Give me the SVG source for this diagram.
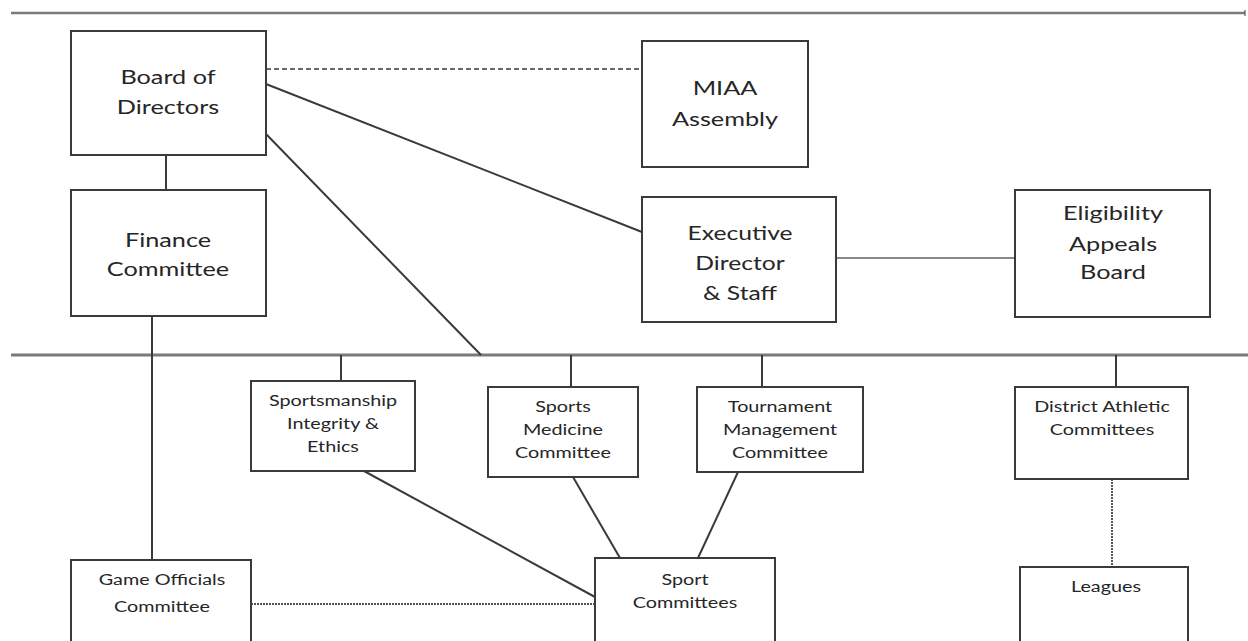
<svg xmlns="http://www.w3.org/2000/svg" width="1248" height="641" viewBox="0 0 1248 641">
<style>
.box{fill:#fff;stroke:#3a3a3a;stroke-width:2}
.t{font-family:Lato,"Open Sans","Liberation Sans",sans-serif;fill:#262626;text-anchor:middle}
.big{font-size:19px}
.sm{font-size:15px}
.ln{stroke:#3a3a3a;stroke-width:2;fill:none}
.bus{stroke:#7a7a7a;stroke-width:3;fill:none}
.dash{stroke:#3a3a3a;stroke-width:1.6;stroke-dasharray:5 3;fill:none}
.dot{stroke:#555;stroke-width:2;stroke-dasharray:2 1;fill:none}
</style>
<rect width="1248" height="641" fill="#fff"/>
<g id="connectors">
<line class="bus" x1="11" y1="13" x2="1245" y2="13" style="stroke-width:2.5"/>
<line class="ln" x1="1245" y1="10" x2="1245" y2="16" style="stroke-width:1"/>
<line class="bus" x1="11" y1="355" x2="1248" y2="355"/>
<line class="dash" x1="266" y1="69" x2="642" y2="69"/>
<line class="ln" x1="266" y1="84" x2="642" y2="232"/>
<line class="ln" x1="266" y1="134" x2="481" y2="355"/>
<line class="ln" x1="166" y1="155" x2="166" y2="190"/>
<line class="ln" x1="836" y1="258" x2="1015" y2="258" style="stroke:#888"/>
<line class="ln" x1="152" y1="316" x2="152" y2="560"/>
<line class="ln" x1="341" y1="355" x2="341" y2="381"/>
<line class="ln" x1="571" y1="355" x2="571" y2="387"/>
<line class="ln" x1="762" y1="355" x2="762" y2="387"/>
<line class="ln" x1="1116" y1="355" x2="1116" y2="387"/>
<line class="dot" x1="1112" y1="479" x2="1112" y2="567"/>
<line class="dot" x1="251" y1="604" x2="595" y2="604"/>
<line class="ln" x1="364" y1="471" x2="595" y2="597"/>
<line class="ln" x1="573" y1="477" x2="620" y2="558"/>
<line class="ln" x1="738" y1="472" x2="698" y2="558"/>
</g>
<g id="board">
<rect class="box" x="71" y="31" width="195" height="124"/>
<g transform="translate(168 0) scale(1.33 1)">
<text class="t big" x="0" y="84">Board of</text>
<text class="t big" x="0" y="114">Directors</text>
</g>
</g>
<g id="miaa">
<rect class="box" x="642" y="41" width="166" height="126"/>
<g transform="translate(725 0) scale(1.33 1)">
<text class="t big" x="0" y="95">MIAA</text>
<text class="t big" x="0" y="126">Assembly</text>
</g>
</g>
<g id="finance">
<rect class="box" x="71" y="190" width="195" height="126"/>
<g transform="translate(168 0) scale(1.33 1)">
<text class="t big" x="0" y="247">Finance</text>
<text class="t big" x="0" y="276">Committee</text>
</g>
</g>
<g id="exec">
<rect class="box" x="642" y="197" width="194" height="125"/>
<g transform="translate(740 0) scale(1.3 1)">
<text class="t big" x="0" y="240">Executive</text>
<text class="t big" x="0" y="270">Director</text>
<text class="t big" x="0" y="300">&amp; Staff</text>
</g>
</g>
<g id="eligibility">
<rect class="box" x="1015" y="190" width="195" height="127"/>
<g transform="translate(1113 0) scale(1.33 1)">
<text class="t big" x="0" y="220">Eligibility</text>
<text class="t big" x="0" y="251">Appeals</text>
<text class="t big" x="0" y="279">Board</text>
</g>
</g>
<g id="sportsmanship">
<rect class="box" x="251" y="381" width="164" height="90"/>
<g transform="translate(333 0) scale(1.32 1)">
<text class="t sm" x="0" y="406">Sportsmanship</text>
<text class="t sm" x="0" y="429">Integrity &amp;</text>
<text class="t sm" x="0" y="452">Ethics</text>
</g>
</g>
<g id="sportsmed">
<rect class="box" x="488" y="387" width="150" height="90"/>
<g transform="translate(563 0) scale(1.32 1)">
<text class="t sm" x="0" y="412">Sports</text>
<text class="t sm" x="0" y="435">Medicine</text>
<text class="t sm" x="0" y="458">Committee</text>
</g>
</g>
<g id="tournament">
<rect class="box" x="697" y="387" width="166" height="85"/>
<g transform="translate(780 0) scale(1.32 1)">
<text class="t sm" x="0" y="412">Tournament</text>
<text class="t sm" x="0" y="435">Management</text>
<text class="t sm" x="0" y="458">Committee</text>
</g>
</g>
<g id="district">
<rect class="box" x="1015" y="387" width="173" height="92"/>
<g transform="translate(1102 0) scale(1.32 1)">
<text class="t sm" x="0" y="412">District Athletic</text>
<text class="t sm" x="0" y="435">Committees</text>
</g>
</g>
<g id="leagues">
<rect class="box" x="1020" y="567" width="168" height="80"/>
<g transform="translate(1106 0) scale(1.32 1)">
<text class="t sm" x="0" y="592">Leagues</text>
</g>
</g>
<g id="gameofficials">
<rect class="box" x="71" y="560" width="180" height="90"/>
<g transform="translate(162 0) scale(1.32 1)">
<text class="t sm" x="0" y="585">Game Officials</text>
<text class="t sm" x="0" y="612">Committee</text>
</g>
</g>
<g id="sportcommittees">
<rect class="box" x="595" y="558" width="180" height="90"/>
<g transform="translate(685 0) scale(1.32 1)">
<text class="t sm" x="0" y="585">Sport</text>
<text class="t sm" x="0" y="608">Committees</text>
</g>
</g>
</svg>
